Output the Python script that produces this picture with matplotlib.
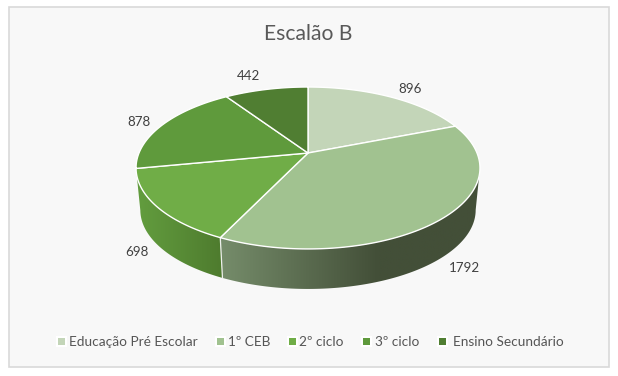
import numpy as np
import matplotlib
matplotlib.use("Agg")
import matplotlib.pyplot as plt
from matplotlib.colors import to_rgb
from matplotlib.patches import Polygon, Rectangle

title = "Escalão B"
categories = ["Educação Pré Escolar", "1º CEB", "2º ciclo", "3º ciclo",
              "Ensino Secundário"]
values = [896, 1792, 698, 878, 442]

top_colors = ["#c3d5b8", "#a1c290", "#70ad47", "#5f9a3c", "#507e32"]
# left and right colour of the rim, None when the rim is hidden
rim_colors = [None, ("#758c6a", "#434f38"), ("#629c3e", "#4e7b2e"), None, None]
rim_x_range = [None, (222, 378), (140, 222), None, None]
label_xy = [(410, 89), (464, 267.5), (137, 252.5), (139, 122.5), (248, 76)]
legend_box_x = [61.5, 220.7, 292, 366.5, 442]
legend_text_x = [69, 228, 299, 375, 453]

# perspective of the pie, in pixels
CX, CY = 308, 153
A, B, K = 169, 78.2, 0.185
DROP, BOTTOM_SCALE = 42.4, 0.975
VISIBLE = np.degrees(np.arccos(-K))
VISIBLE = (VISIBLE, 360 - VISIBLE)


def project(theta, radius=1.0, scale=1.0, drop=0.0):
    rad = np.radians(theta)
    u = radius * np.sin(rad)
    v = -radius * np.cos(rad)
    den = 1 - K * v
    return CX + scale * A * u / den, CY + drop + scale * B * v / den


def draw_rim(ax, start, end, colors, x_range):
    lo, hi = max(start, VISIBLE[0]), min(end, VISIBLE[1])
    thetas = np.linspace(lo, hi, 200)
    top_x, top_y = project(thetas)
    low_x, low_y = project(thetas, scale=BOTTOM_SCALE, drop=DROP)
    xs = np.concatenate([top_x, low_x[::-1]])
    ys = np.concatenate([top_y, low_y[::-1]])
    outline = Polygon(np.column_stack([xs, ys]), closed=True,
                      transform=ax.transData, facecolor="none",
                      edgecolor="none")
    ax.add_patch(outline)
    grid = np.linspace(xs.min() - 1, xs.max() + 1, 400)
    frac = np.clip((grid - x_range[0]) / (x_range[1] - x_range[0]), 0, 1)
    c0, c1 = np.array(to_rgb(colors[0])), np.array(to_rgb(colors[1]))
    strip = c0 + (c1 - c0) * frac[:, None]
    im = ax.imshow(strip[None, :, :], aspect="auto", zorder=2,
                   interpolation="bilinear",
                   extent=(grid[0], grid[-1], ys.max() + 1, ys.min() - 1))
    im.set_clip_path(outline)


fig = plt.figure(figsize=(6.18, 3.76), dpi=100, facecolor="white")
ax = fig.add_axes([0, 0, 1, 1])
plt.rcParams["font.family"] = ["Lato", "DejaVu Sans"]

ax.add_patch(Rectangle((8.5, 6.5), 600, 360, facecolor="#f8f8f8",
                       edgecolor="#d9d9d9", linewidth=1.2, zorder=1))

edges = np.cumsum([0] + values) / sum(values) * 360

for i in range(len(values)):
    if rim_colors[i] is not None:
        draw_rim(ax, edges[i], edges[i + 1], rim_colors[i], rim_x_range[i])

# white seam between the two rim pieces
seam = edges[2]
sx0, sy0 = project(seam)
sx1, sy1 = project(seam, scale=BOTTOM_SCALE, drop=DROP)
ax.plot([sx0, sx1], [sy0, sy1], color="#eef0ec", lw=0.9, zorder=3)

for i in range(len(values)):
    thetas = np.linspace(edges[i], edges[i + 1], 200)
    xs, ys = project(thetas)
    pts = [(CX, CY)] + list(zip(xs, ys))
    ax.add_patch(Polygon(pts, closed=True, facecolor=top_colors[i],
                         edgecolor="white", linewidth=1.0, zorder=4,
                         joinstyle="round"))

for i in range(len(values)):
    ax.text(label_xy[i][0], label_xy[i][1], str(values[i]), color="#404040",
            fontsize=9.6, ha="center", va="center", zorder=5)

ax.text(308, 33.5, title, color="#595959", fontsize=15.2, ha="center",
        va="center", zorder=5)

for i in range(len(categories)):
    bx = legend_box_x[i]
    ax.add_patch(Rectangle((bx - 5.5, 336), 11, 11, facecolor="white",
                           edgecolor="none", zorder=4))
    ax.add_patch(Rectangle((bx - 3.5, 338), 7, 7, facecolor=top_colors[i],
                           edgecolor="none", zorder=5))
    ax.text(legend_text_x[i], 341.5, categories[i], color="#555555",
            fontsize=9.8, ha="left", va="center", zorder=5)

ax.set_xlim(0, 618)
ax.set_ylim(376, 0)
ax.axis("off")
fig.savefig("out.png", dpi=100, facecolor="white")
